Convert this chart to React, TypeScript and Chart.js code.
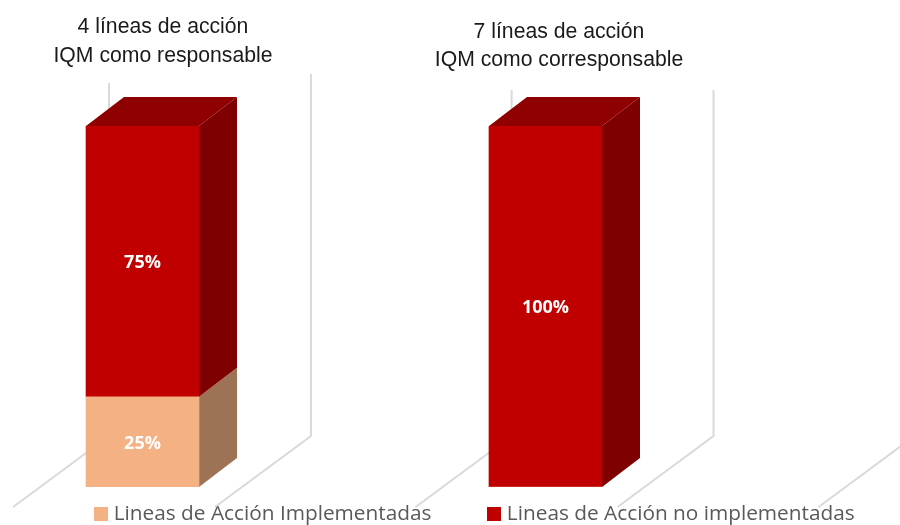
import React, { useEffect, useRef } from "react";
import { Chart, registerables } from "chart.js";

Chart.register(...registerables);

const implementedValues = [25, 0];
const notImplementedValues = [75, 100];
const legendLabels = ["Lineas de Acción Implementadas", "Lineas de Acción no implementadas"];
const titleLines = [
  ["4 líneas de acción", "IQM como responsable"],
  ["7 líneas de acción", "IQM como corresponsable"],
];
const gridPositions = [-0.083, 0.418, 0.916, 1.417, 1.916];

const FRONT = ["#F4B183", "#C00000"];
const SIDE = ["#9E7355", "#7F0000"];
const TOP = ["#A87A5A", "#8F0000"];
const GRID = "#D9D9D9";
const DX = 38;
const DY = 29;
const titlePos = [
  { x: 163, y: [33, 62] },
  { x: 559, y: [38, 66] },
];
const gridTops = [83, 74, 90, 90, 90];

function swatch(color: string) {
  const c = document.createElement("canvas");
  c.width = 14;
  c.height = 14;
  const g = c.getContext("2d")!;
  g.fillStyle = color;
  g.fillRect(0, 0, 14, 14);
  return c;
}

const bars3d = {
  id: "bars3d",
  afterLayout(chart: any) {
    const l = chart.legend;
    const shift = 26.5;
    l.left += shift;
    l.right += shift;
    l.top = 504 - l.options.labels.padding;
  },
  beforeDatasetsDraw(chart: any) {
    const { ctx, scales } = chart;
    const floorBack = scales.y.getPixelForValue(0) - 51;
    ctx.save();
    ctx.strokeStyle = GRID;
    ctx.lineWidth = 2;
    gridPositions.forEach((v, i) => {
      const x = scales.x.getPixelForValue(v);
      ctx.beginPath();
      ctx.moveTo(x, gridTops[i]);
      ctx.lineTo(x, floorBack);
      ctx.lineTo(x - 96, floorBack + 71);
      ctx.stroke();
    });
    chart.data.datasets.forEach((ds: any, di: number) => {
      chart.getDatasetMeta(di).data.forEach((bar: any, i: number) => {
        if (!ds.data[i].y) return;
        const right = bar.x + bar.width / 2;
        const left = bar.x - bar.width / 2;
        ctx.fillStyle = SIDE[di];
        ctx.beginPath();
        ctx.moveTo(right, bar.base);
        ctx.lineTo(right + DX, bar.base - DY);
        ctx.lineTo(right + DX, bar.y - DY);
        ctx.lineTo(right, bar.y);
        ctx.closePath();
        ctx.fill();
        if (di === chart.data.datasets.length - 1) {
          ctx.fillStyle = TOP[di];
          ctx.beginPath();
          ctx.moveTo(left, bar.y);
          ctx.lineTo(left + DX, bar.y - DY);
          ctx.lineTo(right + DX, bar.y - DY);
          ctx.lineTo(right, bar.y);
          ctx.closePath();
          ctx.fill();
        }
      });
    });
    ctx.restore();
  },
  afterDatasetsDraw(chart: any) {
    const { ctx } = chart;
    ctx.save();
    ctx.textAlign = "center";
    ctx.textBaseline = "middle";
    ctx.fillStyle = "#FFFFFF";
    ctx.font = '700 18px "Open Sans"';
    chart.data.datasets.forEach((ds: any, di: number) => {
      chart.getDatasetMeta(di).data.forEach((bar: any, i: number) => {
        const v = ds.data[i].y;
        if (!v) return;
        ctx.fillText(`${v}%`, bar.x, (bar.y + bar.base) / 2 + 1.5);
      });
    });
    ctx.fillStyle = "#1A1A1A";
    ctx.textBaseline = "alphabetic";
    ctx.font = '21.2px "Liberation Sans"';
    titleLines.forEach((lines, i) => {
      lines.forEach((t, j) => ctx.fillText(t, titlePos[i].x, titlePos[i].y[j]));
    });
    ctx.restore();
  },
};

export default function App() {
  const ref = useRef<HTMLCanvasElement>(null);
  useEffect(() => {
    const chart = new Chart(ref.current!, {
      type: "bar",
      data: {
        datasets: [
          {
            label: legendLabels[0],
            data: implementedValues.map((y, x) => ({ x, y })),
            backgroundColor: FRONT[0],
            barThickness: 113,
            stack: "s",
          },
          {
            label: legendLabels[1],
            data: notImplementedValues.map((y, x) => ({ x, y })),
            backgroundColor: FRONT[1],
            barThickness: 113,
            stack: "s",
          },
        ],
      },
      options: {
        animation: false,
        responsive: false,
        layout: { padding: { top: 126 } },
        scales: {
          x: { type: "linear", display: false, stacked: true, offset: false, min: -0.3536, max: 1.8797 },
          y: { display: false, stacked: true, min: 0, max: 100 },
        },
        plugins: {
          title: { display: false },
          tooltip: { enabled: false },
          legend: {
            position: "bottom",
            maxHeight: 38,
            labels: {
              padding: 60,
              color: "#595959",
              font: { family: '"Open Sans"', size: 20.8 },
              usePointStyle: true,
              pointStyleWidth: 5,
              generateLabels: () =>
                legendLabels.map((text, i) => ({
                  text,
                  datasetIndex: i,
                  fontColor: "#595959",
                  pointStyle: swatch(FRONT[i]),
                })),
            },
          },
        },
      },
      plugins: [bars3d],
    } as any);
    return () => chart.destroy();
  }, []);
  return (
    <div style={{ position: "fixed", left: 0, top: 0, width: 900, height: 525, background: "#fff" }}>
      <canvas ref={ref} width={900} height={525} style={{ display: "block" }} />
    </div>
  );
}
